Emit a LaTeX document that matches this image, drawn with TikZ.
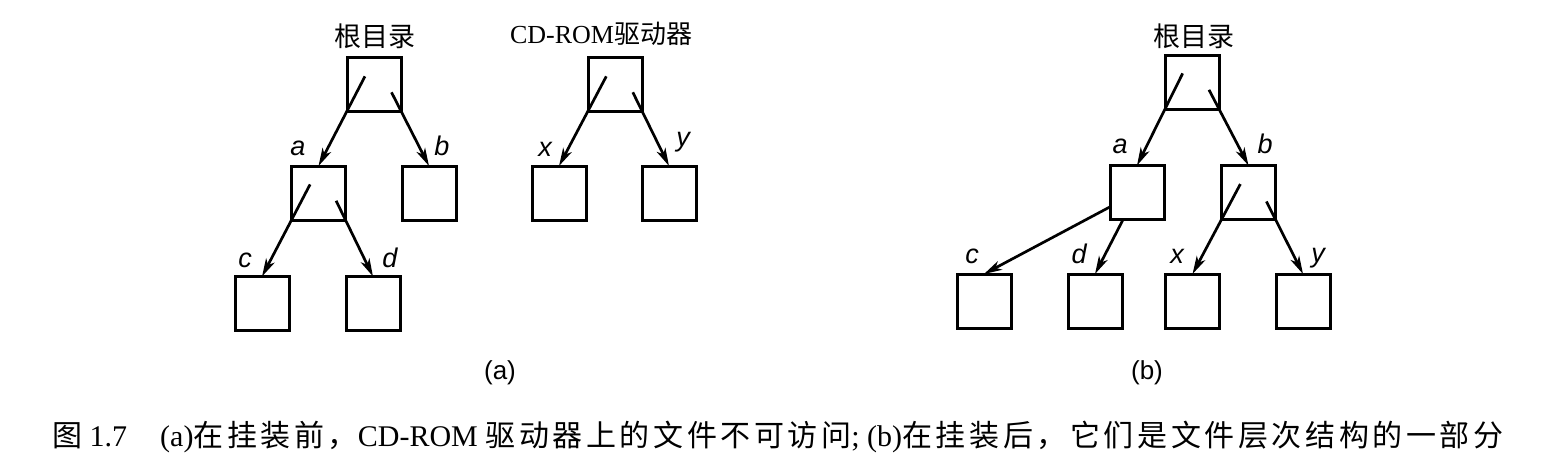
\documentclass[tikz,border=0pt]{standalone}
\usepackage{fontspec}
\setmainfont{Liberation Serif}
\setsansfont{Liberation Sans}
\newfontfamily\cjk{Noto Sans CJK SC}
\newfontfamily\cjkcap[LetterSpace=12]{Noto Sans CJK SC}
\newcommand\zh[1]{{\cjk #1}}
\newcommand\zc[1]{{\cjkcap #1}}
\usetikzlibrary{arrows.meta,calc}
\begin{document}
\begin{tikzpicture}[x=1pt,y=-1pt,
  box/.style={draw,line width=3pt,minimum width=54pt,minimum height=54pt,inner sep=0pt,outer sep=0pt},
  arr/.style={line width=2.7pt,-{Stealth[length=18pt,width=9.5pt,inset=5pt]}},
  lbl/.style={font=\sffamily\itshape\fontsize{27}{27}\selectfont,anchor=base,inner sep=0pt},
  ttl/.style={font=\fontsize{26}{26}\selectfont,anchor=base,inner sep=0pt},
  sub/.style={font=\sffamily\fontsize{26}{26}\selectfont,inner sep=0pt}]
\useasboundingbox (0,0) rectangle (1562,474);
\fill[white] (0,0) rectangle (1562,474);
% ---------- (a) ----------
\node[box] (r1) at (374,84) {};
\node[box] (a1) at (318.5,193) {};
\node[box] (b1) at (429,193) {};
\node[box] (c1) at (262,303.5) {};
\node[box] (d1) at (373,303.5) {};
\node[box] (cd) at (615,84) {};
\node[box] (x1) at (559,193) {};
\node[box] (y1) at (669,193) {};
\node[ttl,font=\fontsize{27}{27}\selectfont] (t1) at (375,46) {\zh{根目录}};
\node[ttl] (t2) at (601,43) {CD-ROM\zh{驱动器}};
\draw[arr] ($(a1.north)!1.63!(r1.south west)$) -- (a1.north);
\draw[arr] ($(b1.north)!1.34!(r1.south east)$) -- (b1.north);
\draw[arr] ($(c1.north)!1.63!(a1.south west)$) -- (c1.north);
\draw[arr] ($(d1.north)!1.34!(a1.south east)$) -- (d1.north);
\draw[arr] ($(x1.north)!1.63!(cd.south west)$) -- (x1.north);
\draw[arr] ($(y1.north)!1.34!(cd.south east)$) -- (y1.north);
\node[lbl] (la1) at (298,155) {a};
\node[lbl] (lb1) at (442,155) {b};
\node[lbl] (lc1) at (245,267) {c};
\node[lbl] (ld1) at (390,267) {d};
\node[lbl] (lx1) at (545,156) {x};
\node[lbl] (ly1) at (683,146) {y};
\node[sub] (sa) at (500,373) {(a)};
% ---------- (b) ----------
\node[box] (r2) at (1192,82) {};
\node[box] (a2) at (1137,192.5) {};
\node[box] (b2) at (1248.5,192.5) {};
\node[box] (c2) at (984,301) {};
\node[box] (d2) at (1095,301) {};
\node[box] (x2) at (1192.5,301) {};
\node[box] (y2) at (1303,301) {};
\node[ttl,font=\fontsize{27}{27}\selectfont] (t3) at (1194,46) {\zh{根目录}};
\draw[arr] ($(a2.north)!1.63!(r2.south west)$) -- (a2.north);
\draw[arr] ($(b2.north)!1.34!(r2.south east)$) -- (b2.north);
\draw[arr] (a2) -- (c2.north);
\draw[arr] (a2) -- (d2.north);
\draw[arr] ($(x2.north)!1.65!(b2.south west)$) -- (x2.north);
\draw[arr] ($(y2.north)!1.33!(b2.south east)$) -- (y2.north);
\node[lbl] (la2) at (1120,153) {a};
\node[lbl] (lb2) at (1265,153) {b};
\node[lbl] (lc2) at (972,263) {c};
\node[lbl] (ld2) at (1079,263) {d};
\node[lbl] (lx2) at (1177,263) {x};
\node[lbl] (ly2) at (1318,262) {y};
\node[sub] (sb) at (1147,373) {(b)};
% ---------- caption ----------
\node[anchor=base west,inner sep=0pt,font=\fontsize{30}{30}\selectfont] (cap) at (52,446)
  {\zc{图} 1.7\hspace{1.1em}(a)\zc{在挂装前，}CD-ROM \zc{驱动器上的文件不可访问}; (b)\zc{在挂装后，它们是文件层次结构的一部分}};
\end{tikzpicture}
\end{document}
